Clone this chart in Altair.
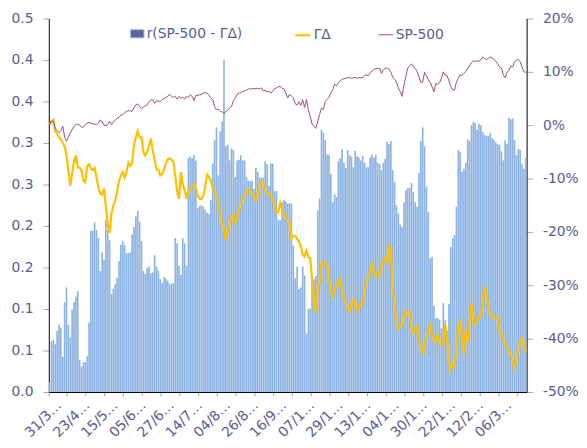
import json
import altair as alt
import pandas as pd

# ---------------- data ----------------
tick_labels = ["31/3…", "23/4…", "15/5…", "05/6…", "27/6…", "14/7…", "04/8…",
               "26/8…", "16/9…", "07/1…", "29/1…", "13/1…", "04/1…", "30/1…",
               "22/1…", "12/2…", "06/3…"]

corr = [
    0.013, 0.068, 0.070, 0.064, 0.082, 0.090, 0.086, 0.047, 0.120, 0.140,
    0.090, 0.073, 0.110, 0.120, 0.128, 0.135, 0.043, 0.034, 0.040, 0.040,
    0.048, 0.093, 0.216, 0.216, 0.227, 0.217, 0.206, 0.162, 0.187, 0.177,
    0.230, 0.217, 0.203, 0.131, 0.138, 0.145, 0.153, 0.175, 0.197, 0.202,
    0.197, 0.186, 0.186, 0.187, 0.211, 0.221, 0.235, 0.243, 0.228, 0.202,
    0.162, 0.158, 0.166, 0.168, 0.159, 0.160, 0.183, 0.168, 0.162, 0.151,
    0.146, 0.154, 0.152, 0.149, 0.145, 0.145, 0.146, 0.206, 0.199, 0.169,
    0.157, 0.206, 0.199, 0.169, 0.313, 0.315, 0.313, 0.317, 0.310, 0.246,
    0.249, 0.250, 0.248, 0.244, 0.240, 0.238, 0.257, 0.306, 0.337, 0.354,
    0.290, 0.349, 0.362, 0.445, 0.329, 0.331, 0.310, 0.326, 0.324, 0.288,
    0.310, 0.311, 0.317, 0.310, 0.310, 0.288, 0.283, 0.282, 0.283, 0.272,
    0.300, 0.295, 0.287, 0.287, 0.287, 0.309, 0.305, 0.276, 0.306, 0.306,
    0.269, 0.269, 0.230, 0.230, 0.254, 0.257, 0.255, 0.252, 0.253, 0.252,
    0.196, 0.152, 0.168, 0.138, 0.140, 0.168, 0.156, 0.078, 0.111, 0.112,
    0.153, 0.151, 0.155, 0.243, 0.259, 0.351, 0.347, 0.337, 0.318, 0.318,
    0.292, 0.254, 0.265, 0.261, 0.309, 0.313, 0.325, 0.307, 0.300, 0.324,
    0.317, 0.315, 0.301, 0.323, 0.316, 0.314, 0.310, 0.316, 0.307, 0.301,
    0.301, 0.314, 0.318, 0.314, 0.318, 0.307, 0.305, 0.297, 0.307, 0.312,
    0.335, 0.332, 0.336, 0.297, 0.281, 0.250, 0.239, 0.224, 0.221, 0.254,
    0.270, 0.273, 0.273, 0.280, 0.268, 0.254, 0.248, 0.293, 0.336, 0.354,
    0.329, 0.275, 0.241, 0.179, 0.181, 0.115, 0.099, 0.099, 0.097, 0.085,
    0.119, 0.096, 0.082, 0.118, 0.194, 0.206, 0.210, 0.248, 0.324, 0.321,
    0.295, 0.299, 0.307, 0.338, 0.336, 0.357, 0.362, 0.360, 0.351, 0.359,
    0.357, 0.348, 0.344, 0.343, 0.343, 0.347, 0.340, 0.337, 0.334, 0.332,
    0.331, 0.322, 0.310, 0.337, 0.332, 0.367, 0.365, 0.366, 0.337, 0.317,
    0.325, 0.324, 0.305, 0.299, 0.313,
]

gamma_delta_pct = [
    0.1, 0.7, 1.0, -1.1, -1.6, -2.2, -2.7, -3.3, -3.9, -5.7,
    -8.5, -11.3, -9.1, -6.7, -5.7, -7.9, -8.0, -8.5, -10.4, -10.7,
    -7.6, -7.3, -8.2, -8.4, -8.0, -9.8, -11.6, -12.8, -13.0, -11.9,
    -15.3, -18.7, -20.2, -16.5, -15.0, -14.1, -12.5, -10.4, -9.4, -8.8,
    -9.8, -8.8, -7.0, -7.6, -7.0, -3.6, -2.3, -1.1, -2.3, -2.3,
    -5.1, -5.7, -5.1, -3.9, -2.5, -4.8, -6.4, -8.3, -8.3, -9.4,
    -9.1, -8.3, -7.2, -6.4, -6.2, -6.5, -6.8, -9.5, -12.5, -13.8,
    -8.8, -11.0, -12.2, -13.8, -12.2, -11.7, -11.4, -11.1, -11.8, -13.2,
    -13.8, -13.8, -13.3, -11.5, -9.3, -9.7, -10.4, -11.8, -12.9, -13.4,
    -14.8, -16.8, -18.6, -19.5, -21.5, -19.7, -18.3, -17.3, -16.9, -18.2,
    -17.2, -15.9, -15.0, -13.6, -13.2, -12.5, -11.9, -12.3, -13.0, -13.3,
    -14.0, -13.0, -11.2, -10.6, -10.7, -12.3, -12.7, -12.9, -13.2, -13.9,
    -15.0, -16.5, -16.2, -14.6, -15.5, -16.8, -17.5, -17.8, -18.7, -21.2,
    -20.7, -20.8, -21.3, -21.8, -22.7, -24.3, -24.6, -23.5, -24.7, -24.9,
    -28.9, -32.6, -35.1, -30.1, -29.5, -25.8, -25.7, -25.8, -25.9, -28.5,
    -31.0, -32.1, -30.7, -29.8, -29.6, -28.8, -31.0, -32.5, -33.2, -34.0,
    -34.8, -33.8, -32.7, -33.2, -34.8, -33.9, -33.6, -33.8, -31.0, -29.0,
    -28.6, -27.0, -26.0, -27.3, -28.5, -28.0, -28.0, -26.4, -25.5, -24.9,
    -25.8, -22.7, -22.8, -31.0, -33.0, -37.5, -38.2, -37.6, -37.3, -35.5,
    -34.8, -35.4, -35.2, -38.0, -38.9, -38.5, -37.5, -40.0, -41.5, -43.0,
    -41.5, -40.0, -38.5, -37.5, -38.8, -40.3, -40.6, -39.4, -40.6, -41.2,
    -40.6, -37.2, -40.0, -44.5, -46.0, -45.0, -45.2, -41.9, -37.5, -36.9,
    -39.4, -42.8, -38.5, -40.6, -36.9, -33.5, -35.7, -37.2, -36.6, -36.0,
    -36.0, -33.2, -30.1, -31.7, -33.8, -35.7, -35.7, -36.2, -36.0, -36.2,
    -38.8, -38.9, -40.3, -40.6, -41.5, -42.5, -42.6, -44.3, -45.5, -44.0,
    -42.2, -40.3, -40.0, -41.2, -42.6,
]

sp500_pct = [
    0.1, 0.8, 0.7, -0.6, -1.0, -1.4, -1.0, -0.2, -2.2, -3.0,
    -2.2, -1.5, -0.8, -0.2, 0.1, 0.2, 0.0, -0.4, -0.3, 0.0,
    0.4, 0.5, 0.4, 0.3, 0.2, 0.1, 0.4, 1.0, 0.6, 0.0,
    -0.1, 0.1, 0.7, 0.1, 0.6, 1.0, 1.3, 1.5, 1.9, 2.0,
    2.3, 2.6, 2.7, 2.7, 2.6, 3.3, 3.8, 4.0, 3.5, 3.1,
    3.4, 3.6, 3.8, 4.4, 4.7, 4.8, 4.1, 4.6, 4.5, 4.4,
    4.8, 5.0, 5.2, 5.4, 5.8, 5.4, 5.2, 5.4, 4.9, 5.4,
    5.1, 5.2, 4.9, 5.4, 5.2, 5.7, 5.4, 4.6, 5.6, 5.6,
    5.7, 5.8, 6.0, 6.1, 6.0, 5.6, 5.1, 4.8, 3.5, 2.9,
    3.0, 2.6, 2.5, 2.2, 2.5, 2.8, 3.2, 3.5, 4.6, 5.1,
    5.8, 6.0, 6.1, 6.3, 6.4, 6.6, 6.8, 6.8, 6.8, 6.9,
    6.8, 6.9, 6.8, 7.0, 6.4, 6.6, 6.2, 6.4, 6.0, 6.4,
    6.9, 7.0, 7.2, 7.3, 6.9, 6.8, 6.0, 5.1, 5.8, 5.4,
    5.1, 4.0, 3.8, 4.4, 3.7, 4.8, 3.3, 4.8, 2.9, 1.7,
    0.2, -0.2, -0.6, 0.7, 2.0, 3.2, 2.9, 4.4, 4.8, 5.2,
    6.0, 6.6, 7.7, 7.4, 8.0, 8.3, 8.6, 8.7, 8.8, 8.9,
    8.9, 8.8, 8.9, 8.9, 8.8, 8.9, 8.9, 8.9, 9.3, 9.4,
    9.3, 9.9, 10.1, 10.5, 10.6, 10.6, 10.7, 9.7, 10.3, 10.7,
    10.7, 10.5, 10.0, 9.0, 8.6, 8.1, 7.0, 6.3, 5.4, 7.5,
    9.1, 10.7, 11.1, 11.5, 11.1, 10.6, 10.1, 9.1, 8.0, 8.1,
    9.9, 9.3, 8.5, 8.0, 7.2, 6.3, 7.8, 7.7, 8.0, 8.8,
    10.0, 9.4, 9.3, 8.3, 7.2, 6.6, 6.6, 8.1, 8.8, 9.5,
    9.3, 9.7, 10.1, 10.6, 11.1, 11.7, 12.0, 12.0, 12.0, 12.0,
    12.2, 12.8, 12.5, 12.3, 12.5, 12.8, 12.6, 12.3, 12.0, 11.5,
    10.9, 10.7, 9.4, 8.9, 9.9, 10.3, 11.1, 10.9, 11.9, 12.2,
    12.3, 11.9, 10.9, 10.0, 9.9,
]

left_ticks = [k / 18 for k in range(10)]
right_ticks = [round(k / 10, 1) for k in range(-5, 3)]

BAR_NAME = "r(SP-500 - ΓΔ)"
GD_NAME = "ΓΔ"
SP_NAME = "SP-500"

# ---------------- styling ----------------
FONT = "DejaVu Sans"
TEXT = "#5B5B93"
BAR = "#8DB3E2"
SWATCH = "#60639E"
GOLD = "#FFC000"
PLUM = "#A04B7A"
TICK = "#A6A6A6"

n = len(corr)
df = pd.DataFrame({
    "i": list(range(n)),
    "corr": corr,
    GD_NAME: [v / 100 for v in gamma_delta_pct],
    SP_NAME: [v / 100 for v in sp500_pct],
})

x_scale = alt.Scale(paddingInner=0.12, paddingOuter=0)
label_expr = ("datum.value % 15 === 0 ? " + json.dumps(tick_labels, ensure_ascii=False)
              + "[datum.value / 15] : ''")
x_axis = alt.Axis(
    values=list(range(0, n, 5)), labelExpr=label_expr, title=None, bandPosition=0,
    labelAngle=315, labelAlign="right", labelBaseline="middle", labelOffset=10,
    labelPadding=7, tickSize=4, tickColor=TICK,
    tickOpacity={"condition": {"test": "datum.value % 10 === 0", "value": 1}, "value": 0},
    domainColor="#000000", labelOverlap=False, grid=False,
    labelFont=FONT, labelFontSize=14, labelColor=TEXT,
)
left_axis = alt.Axis(
    values=left_ticks, format=".1f", title=None, grid=False, tickSize=6, tickColor=TICK,
    domainColor="#000000", labelPadding=10, labelFlush=False, labelOverlap=False,
    labelFont=FONT, labelFontSize=14, labelColor=TEXT,
)
right_axis = alt.Axis(
    orient="right", values=right_ticks,
    labelExpr="replace(format(datum.value, '.0%'), '\u2212', '-')",
    title=None, grid=False, tickSize=6, tickColor=TICK, domainColor="#000000",
    labelPadding=10, labelFlush=False, labelOverlap=False,
    labelFont=FONT, labelFontSize=14, labelColor=TEXT,
)

fill_legend = alt.Legend(
    orient="none", legendX=82, legendY=8, title=None, direction="horizontal", padding=0,
    symbolType="M-1,-0.6L1,-0.6L1,0.6L-1,0.6Z", symbolSize=182,
    symbolStrokeColor=BAR, symbolStrokeWidth=1,
    labelFont=FONT, labelFontSize=14, labelColor=TEXT, labelOffset=2,
)
stroke_legend = alt.Legend(
    orient="none", legendX=248, legendY=8, title=None, direction="horizontal", padding=0,
    symbolType="stroke", symbolSize=225, columnPadding=45,
    labelFont=FONT, labelFontSize=14, labelColor=TEXT, labelOffset=2,
)

y_left = alt.Y("corr:Q", scale=alt.Scale(domain=[0, 0.5], nice=False), axis=left_axis)

# visible bars (light blue, as rendered in the reference)
bars = alt.Chart(df).mark_bar(color=BAR, opacity=1).encode(
    x=alt.X("i:O", scale=x_scale, axis=x_axis),
    y=y_left,
)

# legend entry for the bar series (its swatch is the darker series fill)
bar_key = alt.Chart(df).transform_filter("false").transform_calculate(
    series="'" + BAR_NAME + "'"
).mark_bar().encode(
    x=alt.X("i:O", scale=x_scale, axis=x_axis),
    y=y_left,
    fill=alt.Fill("series:N", scale=alt.Scale(domain=[BAR_NAME], range=[SWATCH]), legend=fill_legend),
)

lines = alt.Chart(df).transform_fold(
    [GD_NAME, SP_NAME], as_=["series", "val"]
).mark_line().encode(
    x=alt.X("i:O", scale=x_scale, axis=x_axis),
    y=alt.Y("val:Q", scale=alt.Scale(domain=[-0.5, 0.2], nice=False, zero=False), axis=right_axis),
    stroke=alt.Stroke("series:N", scale=alt.Scale(domain=[GD_NAME, SP_NAME], range=[GOLD, PLUM]),
                      legend=stroke_legend),
    strokeWidth=alt.StrokeWidth("series:N", scale=alt.Scale(domain=[GD_NAME, SP_NAME], range=[2.25, 1.0]),
                                legend=stroke_legend),
)

left_part = alt.layer(bars, bar_key)

chart = alt.layer(left_part, lines).resolve_scale(y="independent").properties(
    width=483.5, height=378,
    autosize=alt.AutoSizeParams(type="none"),
    padding={"left": 41.3, "top": 8, "right": 53, "bottom": 50},
).configure_view(strokeWidth=0)

chart.save("out.html", embed_options={"renderer": "svg", "actions": False})
